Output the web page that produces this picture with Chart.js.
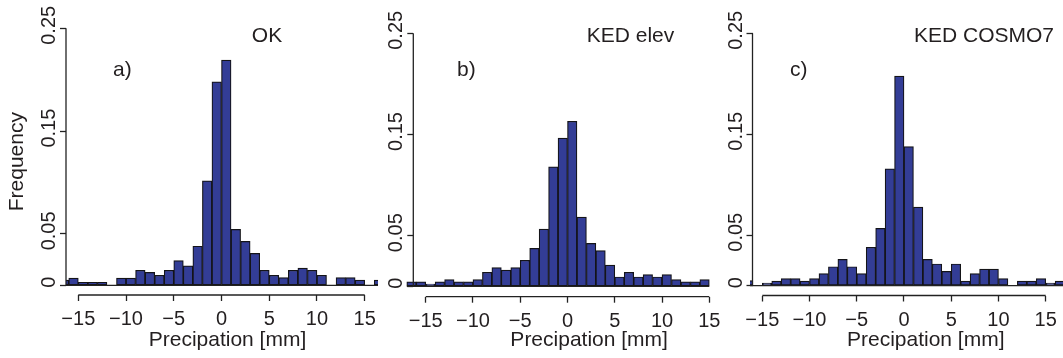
<!DOCTYPE html>
<html><head><meta charset="utf-8">
<script src="https://cdn.jsdelivr.net/npm/chart.js@4.4.1/dist/chart.umd.min.js"></script>
<style>
html,body{margin:0;padding:0;background:#fff;overflow:hidden;width:1063px;height:358px;position:relative;}
canvas{position:absolute;top:0;}
</style></head><body>
<canvas id="cA"></canvas><canvas id="cB"></canvas><canvas id="cC"></canvas>
<script>
// ---- data ----
const binStarts = [-17,-16,-15,-14,-13,-12,-11,-10,-9,-8,-7,-6,-5,-4,-3,-2,-1,0,1,2,3,4,5,6,7,8,9,10,11,12,13,14,15,16];
const valuesOK = [0.005,0.007,0.003,0.003,0.003,0,0.007,0.007,0.0146,0.0126,0.0097,0.0146,0.024,0.019,0.038,0.1016,0.198,
                  0.219,0.0544,0.0427,0.031,0.0146,0.0097,0.0074,0.0146,0.0168,0.0146,0.0097,0,0.0074,0.0074,0.005,0,0.005];
const valuesKEDelev = [0.0043,0.0043,0.0023,0.0043,0.0066,0.0043,0.0043,0.0066,0.0138,0.0184,0.016,0.0184,0.0257,0.0375,0.0566,0.118,0.1465,
                       0.163,0.0684,0.0424,0.0352,0.021,0.0092,0.0138,0.0092,0.0115,0.0092,0.0115,0.0066,0.0043,0.0043,0.0066];
const valuesKEDcosmo = [0.005,0,0.0026,0.0046,0.007,0.007,0.0046,0.007,0.0119,0.0188,0.026,0.0188,0.0119,0.038,0.0568,0.1158,0.2077,
                        0.1377,0.0779,0.026,0.0215,0.0142,0.0215,0.0046,0.0119,0.0165,0.0165,0.007,0,0.0046,0.0046,0.007,0.0026,0.0046];
const xTickValues = [-15,-10,-5,0,5,10,15];
const xTickLabels = ['\u221215','\u221210','\u22125','0','5','10','15'];
const yTickValues = [0,0.05,0.15,0.25];
const yTickLabels = ['0','0.05','0.15','0.25'];
const panelNames = ['OK','KED elev','KED COSMO7'];
const panelLetters = ['a)','b)','c)'];
const xTitle = 'Precipation [mm]';
const yTitle = 'Frequency';

// ---- styles / layout ----
const FONT = '"Liberation Sans", Arial, Helvetica, sans-serif';
const TXT = '#231f20';
const AXIS = '#222222';
const BAR = '#333d96';
const EDGE = '#141418';

const panels = [
  {id:'cA', left:0,   width:389, values:valuesOK,      name:panelNames[0], letter:panelLetters[0],
   yW:66,   top:28.3, xTop:295,   xr:[-16.288,17.545], yr:[-0.009436,0.25], clip:{left:0,right:-11},
   letterPos:[113,75.5], namePos:[267,42], yTitle:true},
  {id:'cB', left:360, width:405, values:valuesKEDelev, name:panelNames[1], letter:panelLetters[1],
   yW:53.3, top:33.3, xTop:296.7, xr:[-16.312,20.892], yr:[-0.010277,0.25], clip:{left:8,right:0},
   letterPos:[97,75.5], namePos:[270.5,42], yTitle:false},
  {id:'cC', left:700, width:399, values:valuesKEDcosmo, name:panelNames[2], letter:panelLetters[2],
   yW:52.5, top:33.3, xTop:295.5, xr:[-16.037,20.642], yr:[-0.009707,0.25], clip:{left:2.5,right:0},
   letterPos:[90,75.5], namePos:[284,42], yTitle:false}
];

const overlay = {
  id:'overlay',
  afterDraw(chart, args, o){
    const {ctx, chartArea:ca, scales:{x,y}} = chart;
    const p = o.panel;
    ctx.save();
    ctx.strokeStyle = AXIS; ctx.lineWidth = 1.3; ctx.lineCap = 'butt';
    const line=(x0,y0,x1,y1)=>{ctx.beginPath();ctx.moveTo(x0,y0);ctx.lineTo(x1,y1);ctx.stroke();};
    // baseline (zero-height bins)
    const n = p.values.length;
    const y0 = y.getPixelForValue(0);
    const bx0 = Math.max(x.getPixelForValue(binStarts[0]), ca.left - p.clip.left);
    const bx1 = Math.min(x.getPixelForValue(binStarts[n-1]+1), ca.right + p.clip.right);
    ctx.lineWidth = 1.2;
    line(bx0, y0, bx1, y0);
    ctx.lineWidth = 1.3;
    // x axis line between first and last tick
    line(x.getPixelForValue(xTickValues[0]), ca.bottom, x.getPixelForValue(xTickValues[xTickValues.length-1]), ca.bottom);
    // y axis line between first and last tick
    line(ca.left, y.getPixelForValue(yTickValues[0]), ca.left, y.getPixelForValue(yTickValues[yTickValues.length-1]));
    // rotated y tick labels
    ctx.fillStyle = TXT;
    ctx.font = '20px ' + FONT;
    ctx.textAlign = 'center'; ctx.textBaseline = 'alphabetic';
    yTickValues.forEach((v,i)=>{
      ctx.save();
      ctx.translate(ca.left - 11, y.getPixelForValue(v) - 3);
      ctx.rotate(-Math.PI/2);
      ctx.fillText(yTickLabels[i], 0, 0);
      ctx.restore();
    });
    // panel letter and method name
    ctx.font = '21px ' + FONT;
    ctx.textAlign = 'left';
    ctx.fillText(p.letter, p.letterPos[0], p.letterPos[1]);
    ctx.textAlign = 'center';
    ctx.fillText(p.name, p.namePos[0], p.namePos[1]);
    ctx.restore();
  }
};

panels.forEach(p=>{
  const el = document.getElementById(p.id);
  el.width = p.width; el.height = 358;
  el.style.left = p.left + 'px';
  el.style.width = p.width + 'px'; el.style.height = '358px';
  new Chart(el, {
    type:'bar',
    data:{datasets:[{
      data: p.values.map((v,i)=>({x: binStarts[i] + 0.5, y: v})),
      backgroundColor: BAR, borderColor: EDGE, borderWidth: 1.2, borderSkipped: false,
      barPercentage: 1, categoryPercentage: 1,
      clip: {left: p.clip.left, right: p.clip.right, top: false, bottom: false}
    }]},
    options:{
      responsive:false, animation:false, devicePixelRatio:1,
      layout:{padding:{left:0,right:0,top:p.top,bottom:0}},
      plugins:{legend:{display:false}, tooltip:{enabled:false}, overlay:{panel:p}},
      scales:{
        x:{type:'linear', min:p.xr[0], max:p.xr[1], bounds:'data', offset:false,
           border:{display:false},
           grid:{drawOnChartArea:false, offset:false, drawTicks:true, tickLength:6, tickColor:AXIS, tickWidth:1.3},
           ticks:{autoSkip:false, maxRotation:0, minRotation:0, padding:6.5, color:TXT,
                  font:{family:FONT, size:20},
                  callback:(v)=>{const i = xTickValues.indexOf(v); return i>=0 ? xTickLabels[i] : '';}},
           afterBuildTicks:(s)=>{ s.ticks = xTickValues.map(v=>({value:v})); },
           afterFit:(s)=>{ s.height = 358 - p.xTop; },
           title:{display:true, text:xTitle, color:TXT, font:{family:FONT, size:21}, padding:{top:0,bottom:5}}
        },
        y:{type:'linear', min:p.yr[0], max:p.yr[1], bounds:'data',
           border:{display:false},
           grid:{drawOnChartArea:false, drawTicks:true, tickLength:6, tickColor:AXIS, tickWidth:1.3},
           ticks:{display:false},
           afterBuildTicks:(s)=>{ s.ticks = yTickValues.map(v=>({value:v})); },
           afterFit:(s)=>{ s.width = p.yW; },
           title:{display:p.yTitle, text:yTitle, color:TXT, font:{family:FONT, size:21}, padding:{top:5,bottom:0}}
        }
      }
    },
    plugins:[overlay]
  });
});
</script>
</body></html>
